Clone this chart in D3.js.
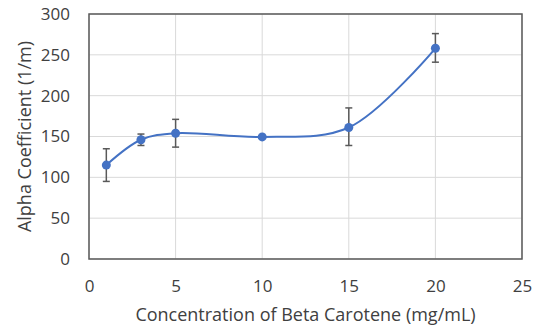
<!DOCTYPE html>
<html lang="en">
  <head>
    <meta charset="UTF-8" />
    <title>Alpha Coefficient vs Beta Carotene</title>
    <script src="https://d3js.org/d3.v7.min.js"></script>
    <style>
      body {
        margin: 0;
        padding: 0;
        background-color: #fff;
      }
      text {
        font-family: "Open Sans", "Noto Sans", sans-serif;
        fill: #404040;
      }
    </style>
  </head>
  <body>
    <div id="chart"></div>

    <script>
      const width = 536;
      const height = 328;

      // data
      const concentration = [1, 3, 5, 10, 15, 20];
      const alpha = [115, 146, 154, 149.5, 161, 258];
      const errLow = [95, 139, 137, 148, 139, 241];
      const errHigh = [135, 153, 171, 151, 185, 276];
      const xTicks = [0, 5, 10, 15, 20, 25];
      const yTicks = [0, 50, 100, 150, 200, 250, 300];

      const margin = { top: 14, right: 14, bottom: 69, left: 89 };

      const svg = d3.select("#chart").append("svg").attr("width", width).attr("height", height);

      const x = d3.scaleLinear().domain([0, 25]).range([margin.left, width - margin.right]);
      const y = d3.scaleLinear().domain([0, 300]).range([height - margin.bottom, margin.top]);

      // gridlines
      svg
        .append("g")
        .selectAll("line")
        .data(yTicks)
        .enter()
        .append("line")
        .attr("x1", x(0))
        .attr("x2", x(25))
        .attr("y1", (d) => y(d))
        .attr("y2", (d) => y(d))
        .attr("stroke", "#d9d9d9")
        .attr("stroke-width", 1);

      svg
        .append("g")
        .selectAll("line")
        .data(xTicks)
        .enter()
        .append("line")
        .attr("x1", (d) => x(d))
        .attr("x2", (d) => x(d))
        .attr("y1", y(0))
        .attr("y2", y(300))
        .attr("stroke", "#d9d9d9")
        .attr("stroke-width", 1);

      // plot border
      svg
        .append("rect")
        .attr("x", x(0))
        .attr("y", y(300))
        .attr("width", x(25) - x(0))
        .attr("height", y(0) - y(300))
        .attr("fill", "none")
        .attr("stroke", "#595959")
        .attr("stroke-width", 1.5);

      // axes (labels only)
      const xAxis = svg
        .append("g")
        .attr("transform", `translate(0, ${y(0)})`)
        .call(d3.axisBottom(x).tickValues(xTicks).tickSize(0).tickPadding(21));
      const yAxis = svg
        .append("g")
        .attr("transform", `translate(${x(0)}, 0)`)
        .call(d3.axisLeft(y).tickValues(yTicks).tickSize(0).tickPadding(19));
      [xAxis, yAxis].forEach((a) => {
        a.select(".domain").remove();
        a.selectAll("text").style("font-size", "17px");
      });

      // axis titles
      svg
        .append("text")
        .attr("x", (x(0) + x(25)) / 2)
        .attr("y", 321)
        .attr("text-anchor", "middle")
        .style("font-size", "18px")
        .text("Concentration of Beta Carotene (mg/mL)");

      svg
        .append("text")
        .attr("transform", `translate(31, ${(y(0) + y(300)) / 2}) rotate(-90)`)
        .attr("text-anchor", "middle")
        .style("font-size", "18px")
        .text("Alpha Coefficient (1/m)");

      const pts = concentration.map((c, i) => ({ c, v: alpha[i], lo: errLow[i], hi: errHigh[i] }));

      // smooth line
      const line = d3
        .line()
        .x((d) => x(d.c))
        .y((d) => y(d.v))
        .curve(d3.curveCatmullRom.alpha(0.5));

      svg.append("path").datum(pts).attr("d", line).attr("fill", "none").attr("stroke", "#4472c4").attr("stroke-width", 2);

      // error bars
      const eb = svg.append("g").attr("stroke", "#595959").attr("stroke-width", 1.5);
      pts.forEach((d) => {
        eb.append("line").attr("x1", x(d.c)).attr("x2", x(d.c)).attr("y1", y(d.lo)).attr("y2", y(d.hi));
        eb.append("line").attr("x1", x(d.c) - 3.5).attr("x2", x(d.c) + 3.5).attr("y1", y(d.lo)).attr("y2", y(d.lo));
        eb.append("line").attr("x1", x(d.c) - 3.5).attr("x2", x(d.c) + 3.5).attr("y1", y(d.hi)).attr("y2", y(d.hi));
      });

      // markers
      svg
        .append("g")
        .selectAll("circle")
        .data(pts)
        .enter()
        .append("circle")
        .attr("cx", (d) => x(d.c))
        .attr("cy", (d) => y(d.v))
        .attr("r", 4.5)
        .attr("fill", "#4472c4");
    </script>
  </body>
</html>
